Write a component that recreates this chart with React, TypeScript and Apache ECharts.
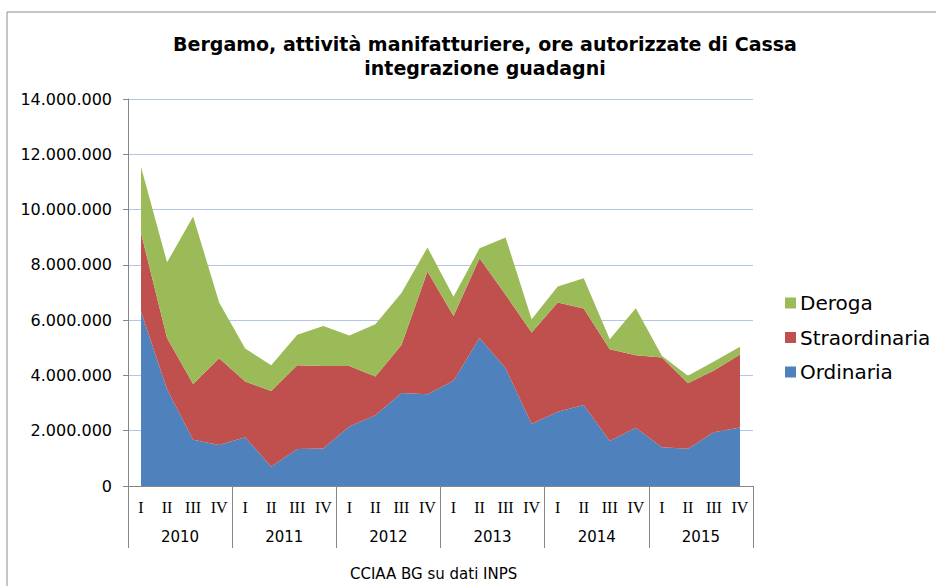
import React, { useEffect, useRef } from "react";
import * as echarts from "echarts";

const quarters = ["I", "II", "III", "IV"];
const years = ["2010", "2011", "2012", "2013", "2014", "2015"];
const categories = years.flatMap((y) => quarters.map((q) => `${q} ${y}`));

const ordinaria = [
  6.31, 3.5, 1.67, 1.48, 1.76, 0.7, 1.34, 1.36, 2.15, 2.56, 3.36, 3.32,
  3.81, 5.35, 4.26, 2.24, 2.69, 2.93, 1.63, 2.11, 1.4, 1.35, 1.94, 2.12,
].map((v) => Math.round(v * 1e6));
const straordinaria = [
  2.84, 1.85, 2.02, 3.14, 2.02, 2.74, 3.03, 2.98, 2.19, 1.4, 1.74, 4.44,
  2.34, 2.89, 2.66, 3.31, 3.95, 3.49, 3.32, 2.62, 3.25, 2.37, 2.24, 2.64,
].map((v) => Math.round(v * 1e6));
const deroga = [
  2.39, 2.74, 6.06, 2.02, 1.19, 0.93, 1.1, 1.45, 1.1, 1.89, 1.88, 0.87,
  0.7, 0.36, 2.07, 0.48, 0.58, 1.1, 0.36, 1.7, 0.06, 0.27, 0.32, 0.28,
].map((v) => Math.round(v * 1e6));

const yTicks = { min: 0, max: 14000000, interval: 2000000 };

const fmt = (v: number) => String(v).replace(/\B(?=(\d{3})+(?!\d))/g, ".");

export default function App() {
  const ref = useRef<HTMLDivElement>(null);
  useEffect(() => {
    if (!ref.current) return;
    const chart = echarts.init(ref.current, null, { renderer: "svg" });
    const sans = "DejaVu Sans, Verdana, sans-serif";
    const gray = "#868686";
    const mk = (name: string, data: number[], color: string) => ({
      name,
      type: "line",
      stack: "tot",
      data,
      symbol: "none",
      showSymbol: false,
      xAxisIndex: 0,
      lineStyle: { width: 0, color },
      itemStyle: { color },
      areaStyle: { color, opacity: 1 },
    });
    chart.setOption({
      animation: false,
      backgroundColor: "#ffffff",
      title: {
        text: "Bergamo, attività manifatturiere, ore autorizzate di Cassa\nintegrazione guadagni",
        left: 480,
        textAlign: "center",
        top: 27,
        textStyle: {
          fontFamily: sans,
          fontWeight: "bold",
          fontSize: 19,
          lineHeight: 24,
          color: "#000",
        },
      },
      graphic: [
        {
          type: "rect",
          shape: { x: 7, y: 12, width: 1000, height: 1000 },
          style: { fill: "none", stroke: "#8c8c8c", lineWidth: 1 },
          silent: true,
        },
        {
          type: "text",
          left: 350,
          top: 566,
          style: {
            text: "CCIAA BG su dati INPS",
            fontFamily: sans,
            fontSize: 15,
            fill: "#000",
          },
        },
      ],
      legend: {
        data: ["Deroga", "Straordinaria", "Ordinaria"],
        orient: "vertical",
        left: 785,
        top: 293,
        padding: 0,
        itemWidth: 11,
        itemHeight: 11,
        itemGap: 14.5,
        icon: "rect",
        textStyle: { fontFamily: sans, fontSize: 20, color: "#000", padding: [0, 0, 0, -1] },
      },
      grid: { left: 128, right: 183, top: 99, bottom: 100, containLabel: false },
      xAxis: [
        {
          type: "category",
          data: categories,
          boundaryGap: true,
          position: "bottom",
          axisLine: { show: true, lineStyle: { color: gray } },
          axisTick: { show: false },
          axisLabel: {
            interval: 0,
            margin: 13,
            fontFamily: "Liberation Serif, Times New Roman, serif",
            fontSize: 16,
            color: "#000",
            formatter: (v: string) => v.split(" ")[0],
          },
        },
        {
          type: "category",
          data: years,
          boundaryGap: true,
          position: "bottom",
          offset: 0,
          axisLine: { show: true, lineStyle: { color: gray } },
          axisTick: { show: true, length: 62, lineStyle: { color: gray } },
          axisLabel: {
            interval: 0,
            margin: 43,
            fontFamily: sans,
            fontSize: 15,
            color: "#000",
          },
        },
      ],
      yAxis: {
        type: "value",
        min: yTicks.min,
        max: yTicks.max,
        interval: yTicks.interval,
        axisLine: { show: true, lineStyle: { color: gray } },
        axisTick: { show: true, length: 5, lineStyle: { color: gray } },
        splitLine: { lineStyle: { color: "#b3c6ea", width: 1 } },
        axisLabel: {
          margin: 16,
          fontFamily: sans,
          fontSize: 16,
          color: "#000",
          formatter: (v: number) => fmt(v),
        },
      },
      series: [
        mk("Ordinaria", ordinaria, "#4f81bd"),
        mk("Straordinaria", straordinaria, "#c0504d"),
        mk("Deroga", deroga, "#9bbb59"),
      ],
    });
    return () => chart.dispose();
  }, []);
  return (
    <div
      ref={ref}
      style={{ position: "fixed", left: 0, top: 0, width: 936, height: 586 }}
    />
  );
}
